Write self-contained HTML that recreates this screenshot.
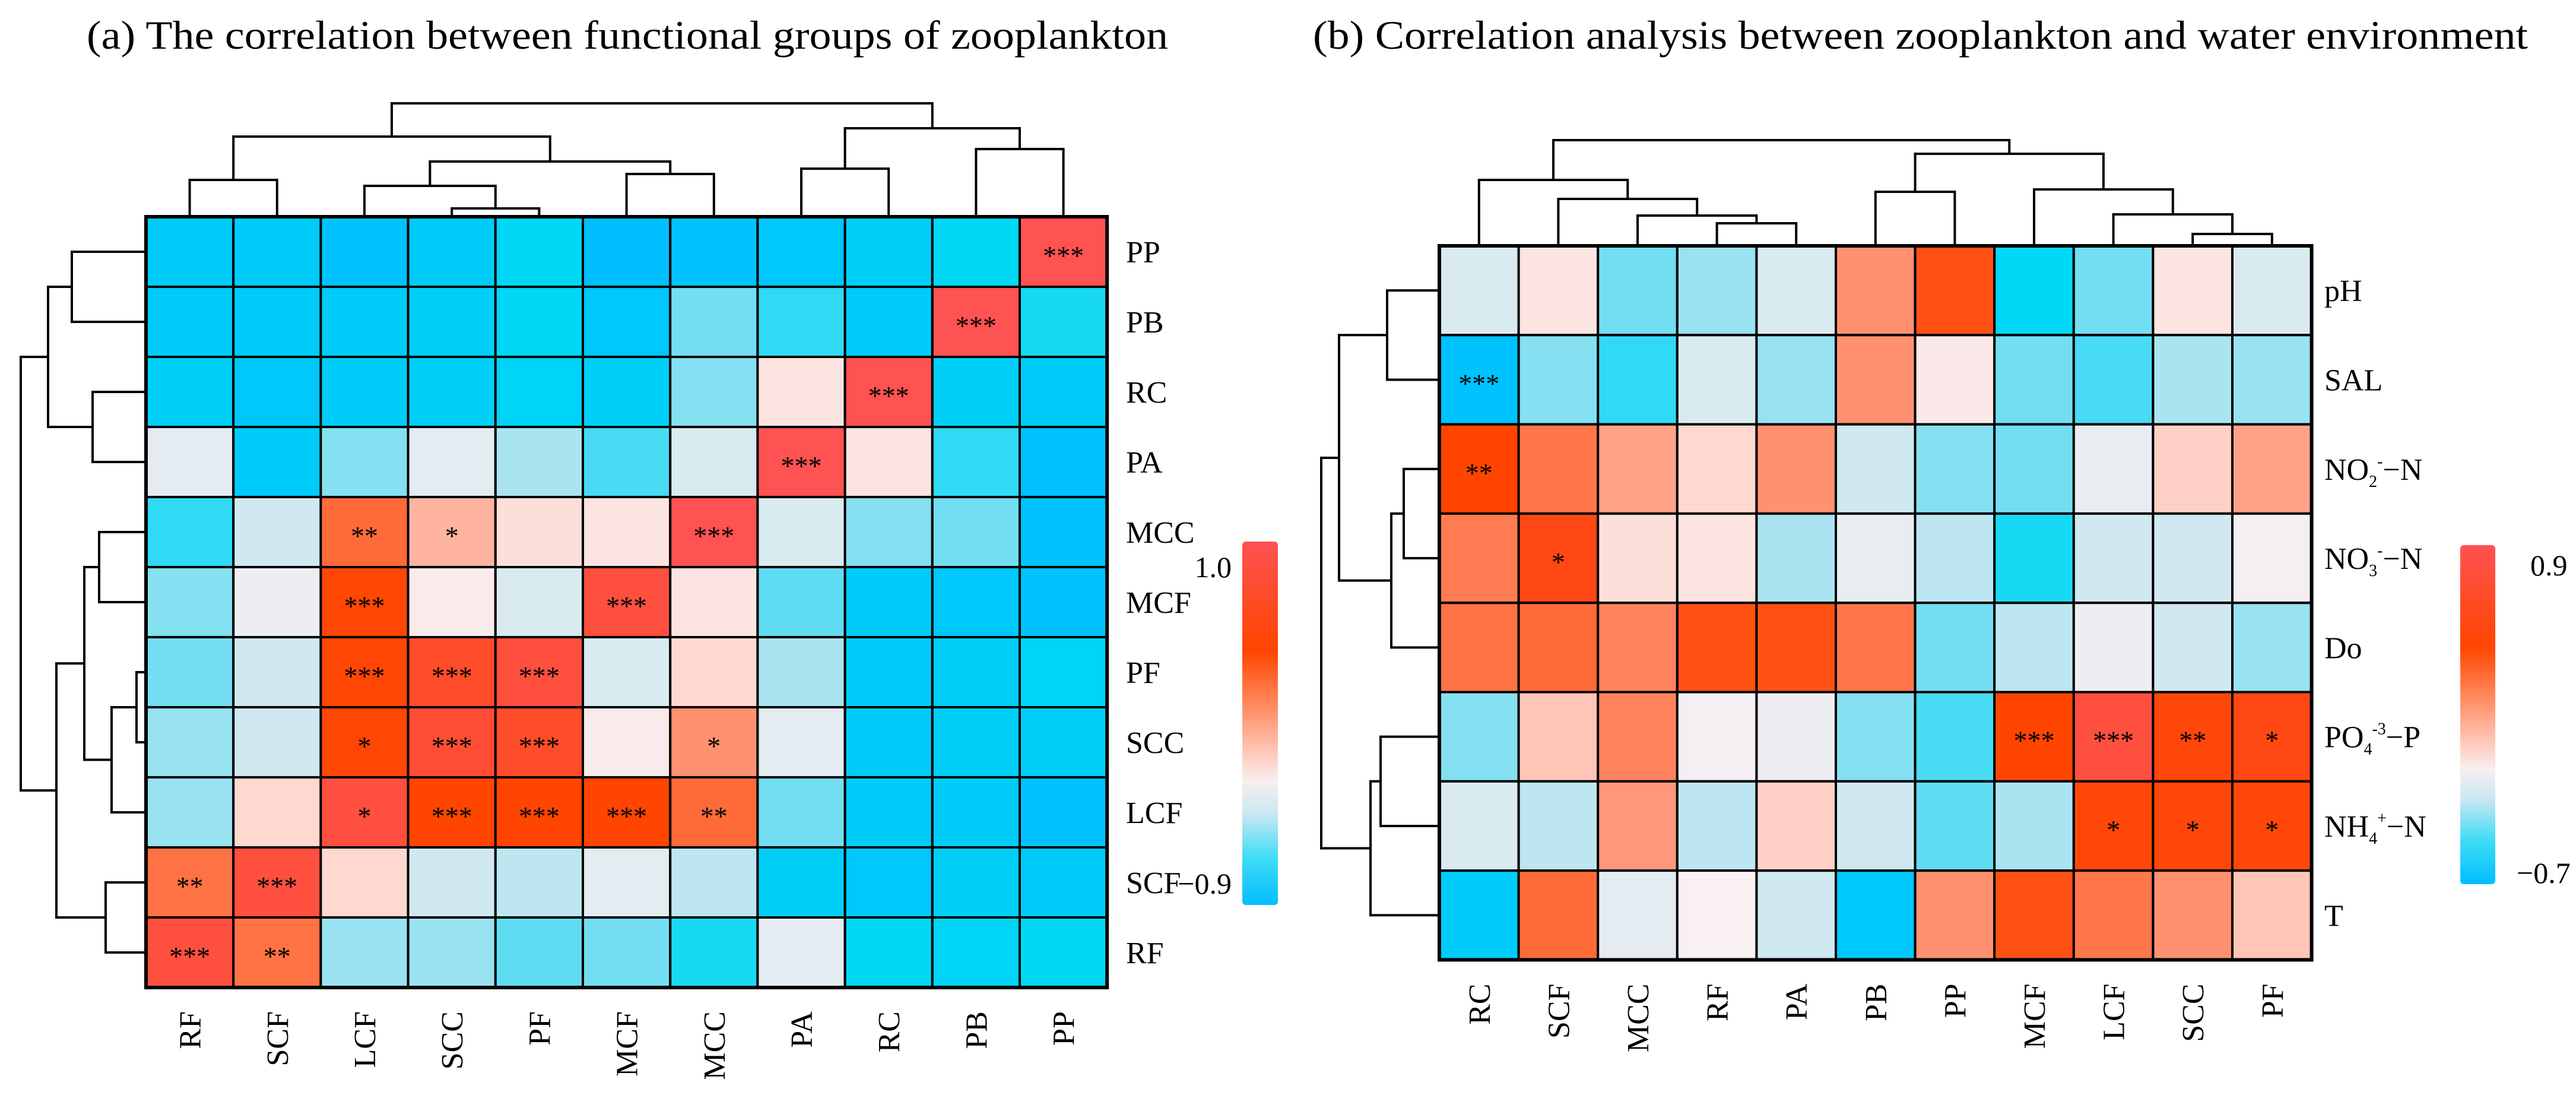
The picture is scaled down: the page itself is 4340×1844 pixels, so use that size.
<!DOCTYPE html>
<html><head><meta charset="utf-8"><style>
html,body{margin:0;padding:0;background:#fff;}
svg{display:block;font-family:"Liberation Serif",serif;}
</style></head><body>
<svg id="chart" width="4340" height="1844" viewBox="0 0 4340 1844" xmlns="http://www.w3.org/2000/svg">
<defs>
<linearGradient id="cbar" x1="0" y1="0" x2="0" y2="1">
<stop offset="0" stop-color="#FF5252"/><stop offset="0.3" stop-color="#FF4500"/><stop offset="0.45" stop-color="#FF8A60"/><stop offset="0.58" stop-color="#FFC8B8"/><stop offset="0.66" stop-color="#F8EEF0"/><stop offset="0.75" stop-color="#C8E8F2"/><stop offset="0.87" stop-color="#40DCF5"/><stop offset="1" stop-color="#00BEFF"/>
</linearGradient>
</defs>
<text x="146" y="82" font-size="68" textLength="1822" lengthAdjust="spacingAndGlyphs">(a) The correlation between functional groups of zooplankton</text>
<text x="2212" y="82" font-size="68" textLength="2047" lengthAdjust="spacingAndGlyphs">(b) Correlation analysis between zooplankton and water environment</text>
<g id="pa"></g>
<g id="pb"></g>
<rect x="2093" y="912" width="60" height="612" rx="6" fill="url(#cbar)"/>
<text x="2075" y="972" font-size="50" text-anchor="end">1.0</text>
<text x="2075" y="1505" font-size="50" text-anchor="end">−0.9</text>
<rect x="4145" y="918" width="59" height="571" rx="6" fill="url(#cbar)"/>
<text x="4263" y="969" font-size="50">0.9</text>
<text x="4240" y="1487" font-size="50">−0.7</text>
</svg>
<script>
const aCols=["RF","SCF","LCF","SCC","PF","MCF","MCC","PA","RC","PB","PP"];
const aRows=["PP","PB","RC","PA","MCC","MCF","PF","SCC","LCF","SCF","RF"];
const aVals=[
[-0.85,-0.85,-0.95,-0.85,-0.7,-1,-0.95,-0.9,-0.8,-0.7,1],
[-0.85,-0.85,-0.85,-0.8,-0.7,-0.9,-0.45,-0.6,-0.85,1,-0.65],
[-0.8,-0.9,-0.85,-0.8,-0.75,-0.8,-0.4,0.05,1,-0.8,-0.85],
[-0.1,-0.85,-0.4,-0.1,-0.3,-0.55,-0.15,1,0.05,-0.6,-0.95],
[-0.6,-0.2,0.45,0.2,0.07,0.05,1,-0.15,-0.4,-0.45,-0.95],
[-0.4,-0.05,0.62,0.02,-0.15,0.9,0.05,-0.5,-0.85,-0.9,-0.95],
[-0.45,-0.2,0.62,0.8,0.9,-0.15,0.1,-0.3,-0.85,-0.8,-0.75],
[-0.35,-0.2,0.62,0.85,0.8,0.02,0.3,-0.1,-0.85,-0.8,-0.8],
[-0.35,0.1,0.9,0.6,0.6,0.6,0.45,-0.45,-0.85,-0.85,-0.95],
[0.42,0.9,0.1,-0.2,-0.25,-0.1,-0.25,-0.8,-0.9,-0.8,-0.85],
[0.9,0.42,-0.35,-0.35,-0.5,-0.45,-0.65,-0.1,-0.7,-0.75,-0.7]];
const aStars=[
["","","","","","","","","","","***"],
["","","","","","","","","","***",""],
["","","","","","","","","***","",""],
["","","","","","","","***","","",""],
["","","**","*","","","***","","","",""],
["","","***","","","***","","","","",""],
["","","***","***","***","","","","","",""],
["","","*","***","***","","*","","","",""],
["","","*","***","***","***","**","","","",""],
["**","***","","","","","","","","",""],
["***","**","","","","","","","","",""]];
const bCols=["RC","SCF","MCC","RF","PA","PB","PP","MCF","LCF","SCC","PF"];
const bRows=["pH","SAL","NO2","NO3","Do","PO4","NH4","T"];
const bVals=[
[-0.15,0.05,-0.45,-0.35,-0.15,0.3,0.55,-0.7,-0.45,0.05,-0.15],
[-0.95,-0.4,-0.6,-0.15,-0.35,0.3,0.03,-0.45,-0.55,-0.3,-0.35],
[0.6,0.4,0.25,0.1,0.3,-0.2,-0.4,-0.45,-0.08,0.12,0.25],
[0.38,0.7,0.07,0.05,-0.3,-0.08,-0.25,-0.65,-0.2,-0.2,-0.02],
[0.42,0.45,0.35,0.55,0.55,0.4,-0.45,-0.25,-0.05,-0.2,-0.35],
[-0.4,0.15,0.35,-0.02,-0.05,-0.4,-0.55,0.6,0.9,0.65,0.7],
[-0.15,-0.25,0.28,-0.25,0.12,-0.2,-0.5,-0.3,0.65,0.65,0.65],
[-0.85,0.45,-0.1,0.0,-0.2,-0.9,0.3,0.55,0.4,0.3,0.15]];
const bStars=[
["","","","","","","","","","",""],
["***","","","","","","","","","",""],
["**","","","","","","","","","",""],
["","*","","","","","","","","",""],
["","","","","","","","","","",""],
["","","","","","","","***","***","**","*"],
["","","","","","","","","*","*","*"],
["","","","","","","","","","",""]];
const stopsV=[-1,-0.7,-0.5,-0.2,0,0.1,0.3,0.6,1];
const stopsC=["#00BFFF","#00D8F5","#60DCF2","#D0E8F0","#F8F0F2","#FFD8D0","#FF9070","#FF4500","#FF5252"];
function hex(c){return [1,3,5].map(i=>parseInt(c.substr(i,2),16));}
function color(v){
  v=Math.max(-1,Math.min(1,v));
  for(let i=0;i<stopsV.length-1;i++){
    if(v<=stopsV[i+1]){const t=(v-stopsV[i])/(stopsV[i+1]-stopsV[i]);const a=hex(stopsC[i]),b=hex(stopsC[i+1]);
      return "rgb("+a.map((x,k)=>Math.round(x+(b[k]-x)*t)).join(",")+")";}
  }
  return stopsC[stopsC.length-1];
}
const NS="http://www.w3.org/2000/svg";
function mk(p,tag,at){const e=document.createElementNS(NS,tag);for(const k in at)e.setAttribute(k,at[k]);p.appendChild(e);return e;}
function lbl(rowName){
  const m={NO2:["NO","2","-","−N"],NO3:["NO","3","-","−N"],PO4:["PO","4","-3","−P"],NH4:["NH","4","+","−N"]};
  return m[rowName];
}
function drawHeat(g,cfg){
  const {cols,rows,vals,stars,x0,y0,cw,ch,rlx,starSize,prefix}=cfg;
  const xs=i=>x0+i*cw, ys=j=>y0+j*ch;
  rows.forEach((r,j)=>{cols.forEach((c,i)=>{
    const rc=mk(g,"rect",{x:xs(i),y:ys(j),width:cw,height:ch,fill:color(vals[j][i]),stroke:"#000","stroke-width":4});
    
    
    if(stars[j][i]){
      const t=mk(g,"text",{x:xs(i)+cw/2,y:ys(j)+ch/2+22,"font-size":starSize,"text-anchor":"middle"});
      t.textContent=stars[j][i];
      
      
    }
  });});
  mk(g,"rect",{x:x0,y:y0,width:cw*cols.length,height:ch*rows.length,fill:"none",stroke:"#000","stroke-width":6});
  rows.forEach((r,j)=>{
    const t=mk(g,"text",{x:rlx,y:ys(j)+ch/2+18,"font-size":52});
    const p=lbl(r);
    if(p){
      const a=mk(t,"tspan",{});a.textContent=p[0];
      const b=mk(t,"tspan",{"font-size":28,dy:12});b.textContent=p[1];
      const c2=mk(t,"tspan",{"font-size":28,dy:-34});c2.textContent=p[2];
      const d=mk(t,"tspan",{dy:22});d.textContent=p[3];
    } else t.textContent=r;
    
    
  });
  cols.forEach((c,i)=>{
    const cx=xs(i)+cw/2+18, cy=y0+ch*rows.length+40;
    const t=mk(g,"text",{x:cx,y:cy,"font-size":52,"text-anchor":"end",transform:"rotate(-90 "+cx+" "+cy+")"});
    t.textContent=c;
    
    
  });
  return {xs,ys};
}
function dendro(g,segs,name){
  const p=mk(g,"path",{d:segs,fill:"none",stroke:"#000","stroke-width":4});
  
  
}
function colTree(merges){let d="";merges.forEach(m=>{d+=`M${m[0]},${m[2]}V${m[4]}H${m[1]}V${m[3]}`;});return d;}
function rowTree(merges){let d="";merges.forEach(m=>{d+=`M${m[2]},${m[0]}H${m[4]}V${m[1]}H${m[3]}`;});return d;}
const mid=(a,b)=>(a+b)/2;

// Panel A
const ga=document.getElementById("pa");
const A=drawHeat(ga,{cols:aCols,rows:aRows,vals:aVals,stars:aStars,x0:246,y0:365,cw:147.2,ch:118,rlx:1897,starSize:46,prefix:"a"});
const cxA=i=>A.xs(i)+73.6, ryA=j=>A.ys(j)+59, topA=365, lftA=246;
{
 const s1x=mid(cxA(3),cxA(4)), l1=mid(cxA(2),s1x), m1=mid(cxA(5),cxA(6)), g1=mid(l1,m1), r1=mid(cxA(0),cxA(1)), all1=mid(r1,g1);
 const p1=mid(cxA(7),cxA(8)), p2=mid(cxA(9),cxA(10)), p3=mid(p1,p2);
 dendro(ga,colTree([
  [cxA(0),cxA(1),topA,topA,303],[cxA(3),cxA(4),topA,topA,351],[cxA(2),s1x,topA,351,313],[cxA(5),cxA(6),topA,topA,293],
  [l1,m1,313,293,272],[r1,g1,303,272,230],[cxA(7),cxA(8),topA,topA,284],[cxA(9),cxA(10),topA,topA,251],
  [p1,p2,284,251,216],[all1,p3,230,216,174]]),"a-column-dendrogram");
 const q1=mid(ryA(0),ryA(1)), q2=mid(ryA(2),ryA(3)), q3=mid(q1,q2);
 const w1=mid(ryA(4),ryA(5)), w2=mid(ryA(6),ryA(7)), w3=mid(w2,ryA(8)), w4=mid(w1,w3), w5=mid(ryA(9),ryA(10)), w6=mid(w4,w5);
 dendro(ga,rowTree([
  [ryA(0),ryA(1),lftA,lftA,121],[ryA(2),ryA(3),lftA,lftA,156],[q1,q2,121,156,81],
  [ryA(4),ryA(5),lftA,lftA,167],[ryA(6),ryA(7),lftA,lftA,230],[w2,ryA(8),230,lftA,188],[w1,w3,167,188,142],
  [ryA(9),ryA(10),lftA,lftA,178],[w4,w5,142,178,95],[q3,w6,81,95,35]]),"a-row-dendrogram");
}
// Panel B
const gb=document.getElementById("pb");
const B=drawHeat(gb,{cols:bCols,rows:bRows,vals:bVals,stars:bStars,x0:2425,y0:414,cw:133.6,ch:150.3,rlx:3916,starSize:46,prefix:"b"});
const cxB=i=>B.xs(i)+66.8, ryB=j=>B.ys(j)+75.15, topB=414, lftB=2425;
{
 const a1=mid(cxB(3),cxB(4)), a2=mid(cxB(2),a1), a3=mid(cxB(1),a2), a4=mid(cxB(0),a3);
 const b1=mid(cxB(5),cxB(6)), c1=mid(cxB(9),cxB(10)), c2=mid(cxB(8),c1), c3=mid(cxB(7),c2), c4=mid(b1,c3);
 dendro(gb,colTree([
  [cxB(3),cxB(4),topB,topB,376],[cxB(2),a1,topB,376,363],[cxB(1),a2,topB,363,335],[cxB(0),a3,topB,335,303],
  [cxB(5),cxB(6),topB,topB,323],[cxB(9),cxB(10),topB,topB,394],[cxB(8),c1,topB,394,361],[cxB(7),c2,topB,361,319],
  [b1,c3,323,319,259],[a4,c4,303,259,236]]),"b-column-dendrogram");
 const r1=mid(ryB(0),ryB(1)), r2=mid(ryB(2),ryB(3)), r3=mid(r2,ryB(4)), r4=mid(r1,r3), r5=mid(ryB(5),ryB(6)), r6=mid(r5,ryB(7));
 dendro(gb,rowTree([
  [ryB(0),ryB(1),lftB,lftB,2337],[ryB(2),ryB(3),lftB,lftB,2365],[r2,ryB(4),2365,lftB,2344],[r1,r3,2337,2344,2256],
  [ryB(5),ryB(6),lftB,lftB,2326],[r5,ryB(7),2326,lftB,2309],[r4,r6,2256,2309,2226]]),"b-row-dendrogram");
}
</script>
</body></html>
